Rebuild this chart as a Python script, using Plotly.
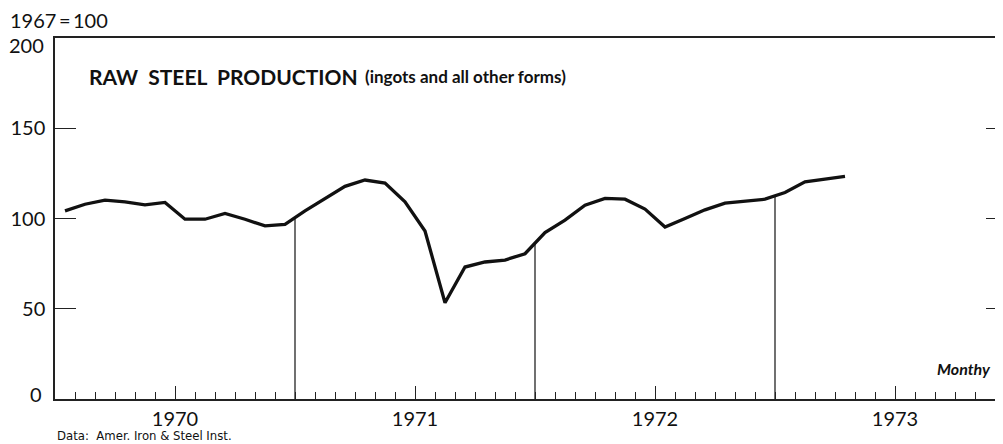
import plotly.graph_objects as go

# ---- data (index, 1967 = 100), monthly, Jan 1970 - Apr 1973 ----
years = ["1970", "1971", "1972", "1973"]
v1970 = [104.2, 107.9, 110.2, 109.2, 107.6, 108.9, 99.6, 99.6, 102.8, 99.6, 95.9, 96.8]
v1971 = [104.2, 111.1, 117.8, 121.3, 119.6, 109.2, 93.1, 53.3, 73.1, 75.9, 77.0, 80.5]
v1972 = [92.2, 99.1, 107.4, 111.1, 110.7, 105.2, 95.3, 100.0, 104.8, 108.5, 109.8, 110.7]
v1973 = [114.4, 120.3, 121.8, 123.3]
y_ticks = [0, 50, 100, 150, 200]
y_labels = ["", "50", "100", "150", ""]   # ends are labelled separately (set inside the frame)

values = v1970 + v1971 + v1972 + v1973
x_mid = [i + 0.5 for i in range(len(values))]          # mid-month positions (month index)
year_centres = [6 + 12 * k for k in range(len(years))]  # July 1 of each year
year_bounds = [12, 24, 36]                              # Jan 1 of 1971, 1972, 1973
n_months = 12 * len(years)

NUM = "Lato, 'Noto Sans', sans-serif"
INK = "#111111"

fig = go.Figure()
fig.add_trace(go.Scatter(x=x_mid, y=values, mode="lines",
                         line=dict(color=INK, width=3.3), hoverinfo="skip"))
for b in year_bounds:
    yb = (values[b - 1] + values[b]) / 2
    fig.add_trace(go.Scatter(x=[b, b], y=[0, yb], mode="lines",
                             line=dict(color=INK, width=1.2), hoverinfo="skip"))
# carrier for the year-label axis and the right-hand tick axis
fig.add_trace(go.Scatter(x=[0], y=[0], xaxis="x2", yaxis="y2", mode="markers",
                         marker=dict(opacity=0), hoverinfo="skip"))

OFF = 8                      # page body margin
PX_MONTH = 20.0
L, R, T, B = 47, 0, 30, 45
PW, PH = 940, 361
W, H = L + PW + R, T + PH + B
x_end = PW / PX_MONTH

common_x = dict(range=[0, x_end], showgrid=False, zeroline=False)
fig.update_layout(
    width=W, height=H,
    margin=dict(l=L, r=R, t=T, b=B),
    paper_bgcolor="white", plot_bgcolor="white",
    showlegend=False,
    xaxis=dict(**common_x, showline=True, linecolor="#222", linewidth=2, mirror=True,
               tickmode="linear", tick0=0, dtick=1, showticklabels=False,
               ticks="inside", ticklen=7, tickwidth=1.2, tickcolor="#222"),
    xaxis2=dict(**common_x, overlaying="x", side="bottom", showline=False,
                tickmode="array", tickvals=year_centres, ticktext=years,
                ticks="inside", ticklen=13, tickwidth=1.3, tickcolor="#222",
                ticklabelstandoff=6,
                tickfont=dict(family=NUM, size=20, color=INK)),
    yaxis=dict(range=[0, 200], showgrid=False, zeroline=False,
               showline=True, linecolor="#222", linewidth=1.5,
               tickmode="array", tickvals=y_ticks, ticktext=y_labels,
               ticks="inside", ticklen=21, tickwidth=1.3, tickcolor="#222",
               ticklabelstandoff=4,
               tickfont=dict(family=NUM, size=20, color=INK)),
    yaxis2=dict(range=[0, 200], overlaying="y", side="right", showgrid=False,
                zeroline=False, showline=False, showticklabels=False,
                tickmode="array", tickvals=y_ticks[1:-1],
                ticks="inside", ticklen=9, tickwidth=1.3, tickcolor="#222"),
)

def px(xw):
    return (xw - OFF - L) / PW
def py(yw):
    return (OFF + T + PH - yw) / PH

ann = [
    dict(text="1967\u2009=\u2009100", x=px(8), y=py(20), xanchor="left", yanchor="middle",
         font=dict(family=NUM, size=20, color=INK)),
    dict(text=str(y_ticks[-1]), x=px(46), y=py(45), xanchor="right", yanchor="middle",
         font=dict(family=NUM, size=20, color=INK)),
    dict(text=str(y_ticks[0]), x=px(44), y=py(394), xanchor="right", yanchor="middle",
         font=dict(family=NUM, size=20, color=INK)),
    dict(text="<b>RAW\u00a0\u00a0STEEL\u00a0\u00a0PRODUCTION</b>", x=px(87), y=py(76),
         xanchor="left", yanchor="middle",
         font=dict(family=NUM, size=21, color=INK, weight=900)),
    dict(text="<b>(ingots and all other forms)</b>", x=px(363), y=py(77),
         xanchor="left", yanchor="middle",
         font=dict(family=NUM, size=17, color=INK)),
    dict(text="<b><i>Monthy</i></b>", x=px(993), y=py(368),
         xanchor="right", yanchor="middle",
         font=dict(family=NUM, size=16, color=INK)),
    dict(text="Data:\u00a0\u00a0Amer. Iron & Steel Inst.", x=px(55), y=py(435),
         xanchor="left", yanchor="middle",
         font=dict(family="'Liberation Sans Narrow', 'DejaVu Sans Condensed', sans-serif",
                   size=13, color=INK)),
]
for a in ann:
    a.update(xref="paper", yref="paper", showarrow=False)
fig.update_layout(annotations=ann)

fig.write_html("out.html")
